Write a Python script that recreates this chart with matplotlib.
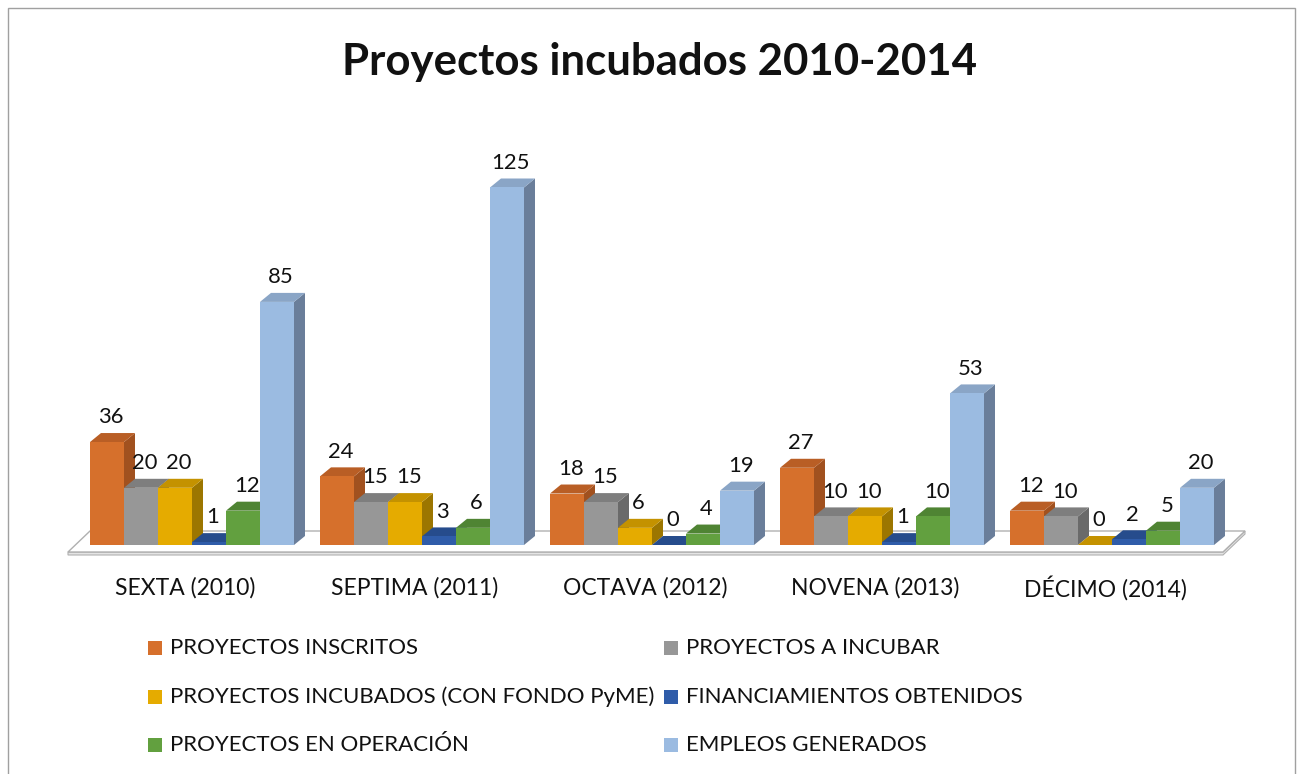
import matplotlib
matplotlib.use("Agg")
import matplotlib.pyplot as plt
from matplotlib.patches import Polygon, Rectangle

FONT = ["Lato", "DejaVu Sans"]
plt.rcParams["font.family"] = FONT

categories = ["SEXTA (2010)", "SEPTIMA (2011)", "OCTAVA (2012)", "NOVENA (2013)", "DÉCIMO (2014)"]
series_names = [
    "PROYECTOS INSCRITOS",
    "PROYECTOS A INCUBAR",
    "PROYECTOS INCUBADOS (CON FONDO PyME)",
    "FINANCIAMIENTOS OBTENIDOS",
    "PROYECTOS EN OPERACIÓN",
    "EMPLEOS GENERADOS",
]
inscritos = [36, 24, 18, 27, 12]
a_incubar = [20, 15, 15, 10, 10]
incubados = [20, 15, 6, 10, 0]
financiamientos = [1, 3, 0, 1, 2]
operacion = [12, 6, 4, 10, 5]
empleos = [85, 125, 19, 53, 20]
series = [inscritos, a_incubar, incubados, financiamientos, operacion, empleos]

# (front, top, side) colours per series
FACE_COLORS = [
    ("#D6702C", "#B95E25", "#A1511F"),
    ("#979797", "#7E7E7E", "#6A6A6A"),
    ("#E5AB00", "#C49200", "#9C7600"),
    ("#2F5CA9", "#264C8C", "#213F75"),
    ("#62A03F", "#4F8433", "#43702B"),
    ("#9BBBE1", "#8AA5C6", "#6A7E9A"),
]

W, H = 1303, 774
X0_PX, Y0_PX = 192, 545          # first group centre / baseline (px from top)
PX_X, PX_Y = 230.0, 2.86         # px per category, px per unit
BAR_W = 34 / PX_X
DX, DY = 11 / PX_X, 9 / PX_Y     # bar depth offset

fig = plt.figure(figsize=(W / 100, H / 100), dpi=100)
fig.patches.append(Rectangle((8 / W, -0.01), (W - 16) / W, 1 - 8 / H + 0.01, transform=fig.transFigure,
                             fill=False, edgecolor="#A0A0A0", linewidth=1.0))

ax = fig.add_axes([0, 0, 1, 1])
ax.set_xlim(-X0_PX / PX_X, (W - X0_PX) / PX_X)
ax.set_ylim(-(H - Y0_PX) / PX_Y, Y0_PX / PX_Y)
ax.axis("off")

# floor plate
fx0, fx1 = -124 / PX_X, 1031 / PX_X
fy_front, fy_back = -7 / PX_Y, 14 / PX_Y
fdx = 22 / PX_X
ax.add_patch(Polygon([(fx0, fy_front - 3 / PX_Y), (fx1, fy_front - 3 / PX_Y), (fx1 + fdx, fy_back - 3 / PX_Y),
                      (fx1 + fdx, fy_back), (fx1, fy_front), (fx0, fy_front)],
                     closed=True, facecolor="#E4E4E4", edgecolor="#B0B0B0", linewidth=0.8, zorder=1))
ax.add_patch(Polygon([(fx0, fy_front), (fx1, fy_front), (fx1 + fdx, fy_back), (fx0 + fdx, fy_back)],
                     closed=True, facecolor="white", edgecolor="#B0B0B0", linewidth=1.0, zorder=1.1))

n = len(series)
for i, cat in enumerate(categories):
    for j, vals in enumerate(series):
        v = vals[i]
        x = i + (j - n / 2) * BAR_W
        front, top, side = FACE_COLORS[j]
        z = 2 + j
        ax.add_patch(Polygon([(x + BAR_W, 0), (x + BAR_W + DX, DY), (x + BAR_W + DX, v + DY), (x + BAR_W, v)],
                             closed=True, facecolor=side, edgecolor="none", zorder=z))
        ax.add_patch(Polygon([(x, v), (x + DX, v + DY), (x + BAR_W + DX, v + DY), (x + BAR_W, v)],
                             closed=True, facecolor=top, edgecolor="none", zorder=z))
        ax.bar(x, v, width=BAR_W, align="edge", color=front, linewidth=0, zorder=z + 0.5)
        ax.annotate(str(v), xy=(x + BAR_W / 2 + DX / 3, v + DY), xytext=(0, 7), textcoords="offset points",
                    ha="center", va="baseline", fontsize=15.8, color="#111111", zorder=20)
    ax.text(i - 7 / PX_X, -43 / PX_Y, cat, ha="center", va="center", fontsize=16.5, color="#111111")

fig.text(659 / W, 1 - 62 / H, "Proyectos incubados 2010-2014", ha="center", va="center",
         fontsize=31.5, fontweight="bold", color="#111111")

# legend, two columns, row-major
col_x = [148, 664]
row_y = [648, 697, 745]
for k, name in enumerate(series_names):
    cx, cy = col_x[k % 2], row_y[k // 2]
    fig.patches.append(Rectangle((cx / W, 1 - (cy + 7) / H), 14 / W, 14 / H, transform=fig.transFigure,
                                 facecolor=FACE_COLORS[k][0], edgecolor="none"))
    fig.text((cx + 22) / W, 1 - cy / H, name, ha="left", va="center", fontsize=16, color="#111111")

fig.savefig("out.png", dpi=100)
